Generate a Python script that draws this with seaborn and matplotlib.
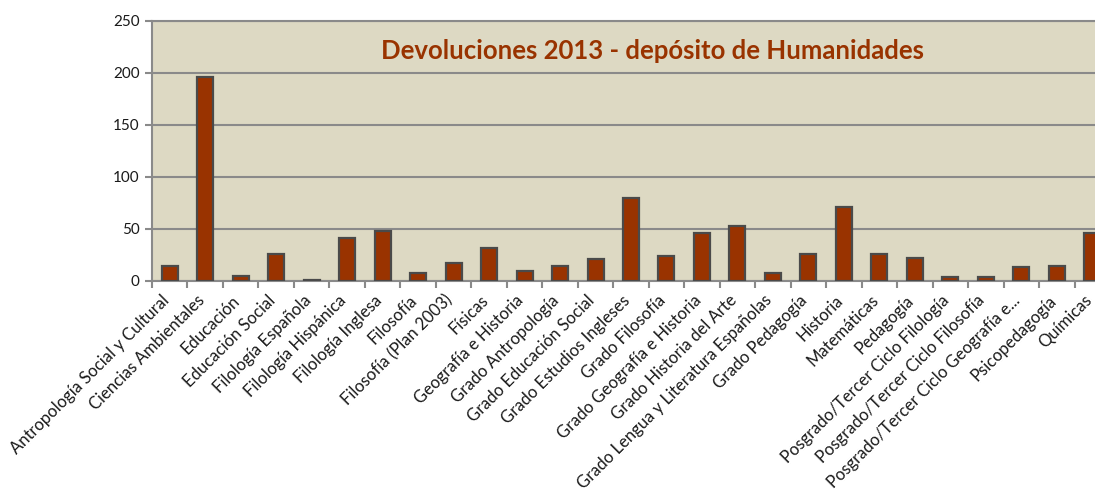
import numpy as np
import pandas as pd
import matplotlib
matplotlib.use("Agg")
import matplotlib.pyplot as plt
import matplotlib.transforms as mtrans
import seaborn as sns

# categorías y valores
categorias = [
    "Antropología Social y Cultural", "Ciencias Ambientales", "Educación",
    "Educación Social", "Filología Española", "Filología Hispánica",
    "Filología Inglesa", "Filosofía", "Filosofía (Plan 2003)", "Físicas",
    "Geografía e Historia", "Grado Antropología", "Grado Educación Social",
    "Grado Estudios Ingleses", "Grado Filosofía", "Grado Geografía e Historia",
    "Grado Historia del Arte", "Grado Lengua y Literatura Españolas",
    "Grado Pedagogía", "Historia", "Matemáticas", "Pedagogía",
    "Posgrado/Tercer Ciclo Filología", "Posgrado/Tercer Ciclo Filosofía",
    "Posgrado/Tercer Ciclo Geografía e...", "Psicopedagogía", "Químicas",
]
devoluciones = [14, 196, 5, 26, 1, 41, 48, 8, 17, 32, 10, 14, 21,
                80, 24, 46, 53, 8, 26, 71, 26, 22, 4, 4, 13, 14, 46]
yticks = [0, 50, 100, 150, 200, 250]

df = pd.DataFrame({"carrera": categorias, "n": devoluciones})

sns.set_style("white")
plt.rcParams["font.family"] = ["Lato", "DejaVu Sans"]

fig = plt.figure(figsize=(10.95, 4.97), dpi=100)
# el área de trazado sobresale por la derecha, como en la captura original
ax = fig.add_axes([152 / 1095, 1 - 281 / 497, (1110 - 152) / 1095, 260 / 497])
ax.set_facecolor("#DDD9C3")

sns.barplot(data=df, x="carrera", y="n", color="#993300", saturation=1,
            edgecolor="#4a4a4a", linewidth=1.6, width=0.45, ax=ax, zorder=3)

ax.set_ylim(0, 250)
ax.set_xlim(-0.5, len(categorias) - 0.5)
ax.set_yticks(yticks)
ax.yaxis.grid(True, color="#8a8a8a", linewidth=1.5, zorder=0)
ax.set_axisbelow(True)

for s in ax.spines.values():
    s.set_color("#8a8a8a")
    s.set_linewidth(1.5)
ax.spines["right"].set_visible(False)

ax.set_xlabel("")
ax.set_ylabel("")
ax.set_xticks(range(len(categorias)))
ax.set_xticklabels(categorias, rotation=45, ha="right", rotation_mode="anchor",
                   fontsize=12, color="#1a1a1a")
ax.set_xticks(np.arange(len(categorias)) - 0.5, minor=True)
ax.tick_params(axis="x", which="major", length=0, pad=8)
ax.tick_params(axis="x", which="minor", length=5, color="#8a8a8a", width=1.5,
               direction="out", bottom=True)
ax.tick_params(axis="y", length=5, color="#8a8a8a", width=1.5, left=True,
               labelsize=11, pad=4, labelcolor="#1a1a1a")

# las etiquetas en el original quedan algo a la izquierda de cada barra
desplaza = mtrans.ScaledTranslation(-9 / 100, 0, fig.dpi_scale_trans)
for lab in ax.get_xticklabels():
    lab.set_transform(lab.get_transform() + desplaza)

ax.text(0.522, 0.885, "Devoluciones 2013 - depósito de Humanidades",
        transform=ax.transAxes, ha="center", va="center",
        fontsize=18.5, fontweight="bold", color="#993300")

fig.savefig("out.png", dpi=100)
